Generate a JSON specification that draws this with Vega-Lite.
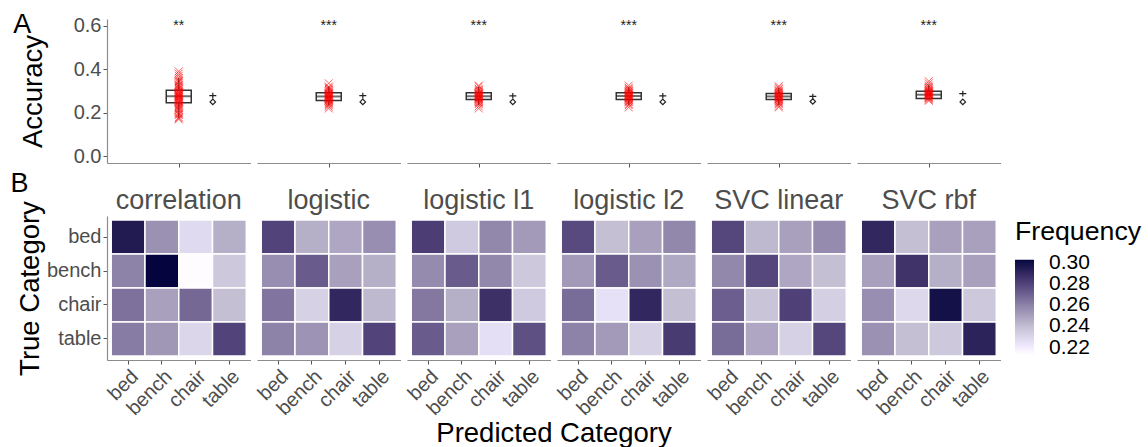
{
  "$schema": "https://vega.github.io/schema/vega-lite/v6.json",
  "padding": {"left": 10, "top": 10, "right": 5, "bottom": 2},
  "spacing": 2,
  "datasets": {
    "top": [
      {"clf": "correlation", "kind": "box", "grp": 1, "q1": 0.246, "med": 0.276, "q3": 0.304, "lo": 0.177, "hi": 0.36},
      {"clf": "logistic", "kind": "box", "grp": 1, "q1": 0.256, "med": 0.275, "q3": 0.292, "lo": 0.233, "hi": 0.322},
      {"clf": "logistic l1", "kind": "box", "grp": 1, "q1": 0.261, "med": 0.276, "q3": 0.292, "lo": 0.235, "hi": 0.318},
      {"clf": "logistic l2", "kind": "box", "grp": 1, "q1": 0.261, "med": 0.277, "q3": 0.292, "lo": 0.235, "hi": 0.32},
      {"clf": "SVC linear", "kind": "box", "grp": 1, "q1": 0.261, "med": 0.275, "q3": 0.289, "lo": 0.235, "hi": 0.315},
      {"clf": "SVC rbf", "kind": "box", "grp": 1, "q1": 0.266, "med": 0.283, "q3": 0.299, "lo": 0.262, "hi": 0.33},
      {"clf": "correlation", "kind": "chance", "grp": 2, "med": 0.279, "out": 0.25},
      {"clf": "logistic", "kind": "chance", "grp": 2, "med": 0.279, "out": 0.25},
      {"clf": "logistic l1", "kind": "chance", "grp": 2, "med": 0.278, "out": 0.25},
      {"clf": "logistic l2", "kind": "chance", "grp": 2, "med": 0.278, "out": 0.25},
      {"clf": "SVC linear", "kind": "chance", "grp": 2, "med": 0.275, "out": 0.252},
      {"clf": "SVC rbf", "kind": "chance", "grp": 2, "med": 0.288, "out": 0.25},
      {"clf": "correlation", "kind": "star", "grp": 1, "sy": 0.6, "sig": "**"},
      {"clf": "logistic", "kind": "star", "grp": 1, "sy": 0.6, "sig": "***"},
      {"clf": "logistic l1", "kind": "star", "grp": 1, "sy": 0.6, "sig": "***"},
      {"clf": "logistic l2", "kind": "star", "grp": 1, "sy": 0.6, "sig": "***"},
      {"clf": "SVC linear", "kind": "star", "grp": 1, "sy": 0.6, "sig": "***"},
      {"clf": "SVC rbf", "kind": "star", "grp": 1, "sy": 0.6, "sig": "***"},
      {"clf": "correlation", "kind": "pt", "grp": 1, "acc": 0.17},
      {"clf": "correlation", "kind": "pt", "grp": 1, "acc": 0.175},
      {"clf": "correlation", "kind": "pt", "grp": 1, "acc": 0.18},
      {"clf": "correlation", "kind": "pt", "grp": 1, "acc": 0.19},
      {"clf": "correlation", "kind": "pt", "grp": 1, "acc": 0.195},
      {"clf": "correlation", "kind": "pt", "grp": 1, "acc": 0.2},
      {"clf": "correlation", "kind": "pt", "grp": 1, "acc": 0.21},
      {"clf": "correlation", "kind": "pt", "grp": 1, "acc": 0.215},
      {"clf": "correlation", "kind": "pt", "grp": 1, "acc": 0.22},
      {"clf": "correlation", "kind": "pt", "grp": 1, "acc": 0.225},
      {"clf": "correlation", "kind": "pt", "grp": 1, "acc": 0.23},
      {"clf": "correlation", "kind": "pt", "grp": 1, "acc": 0.235},
      {"clf": "correlation", "kind": "pt", "grp": 1, "acc": 0.24},
      {"clf": "correlation", "kind": "pt", "grp": 1, "acc": 0.245},
      {"clf": "correlation", "kind": "pt", "grp": 1, "acc": 0.25},
      {"clf": "correlation", "kind": "pt", "grp": 1, "acc": 0.252},
      {"clf": "correlation", "kind": "pt", "grp": 1, "acc": 0.255},
      {"clf": "correlation", "kind": "pt", "grp": 1, "acc": 0.26},
      {"clf": "correlation", "kind": "pt", "grp": 1, "acc": 0.263},
      {"clf": "correlation", "kind": "pt", "grp": 1, "acc": 0.265},
      {"clf": "correlation", "kind": "pt", "grp": 1, "acc": 0.27},
      {"clf": "correlation", "kind": "pt", "grp": 1, "acc": 0.272},
      {"clf": "correlation", "kind": "pt", "grp": 1, "acc": 0.275},
      {"clf": "correlation", "kind": "pt", "grp": 1, "acc": 0.278},
      {"clf": "correlation", "kind": "pt", "grp": 1, "acc": 0.28},
      {"clf": "correlation", "kind": "pt", "grp": 1, "acc": 0.283},
      {"clf": "correlation", "kind": "pt", "grp": 1, "acc": 0.285},
      {"clf": "correlation", "kind": "pt", "grp": 1, "acc": 0.29},
      {"clf": "correlation", "kind": "pt", "grp": 1, "acc": 0.293},
      {"clf": "correlation", "kind": "pt", "grp": 1, "acc": 0.295},
      {"clf": "correlation", "kind": "pt", "grp": 1, "acc": 0.3},
      {"clf": "correlation", "kind": "pt", "grp": 1, "acc": 0.305},
      {"clf": "correlation", "kind": "pt", "grp": 1, "acc": 0.31},
      {"clf": "correlation", "kind": "pt", "grp": 1, "acc": 0.315},
      {"clf": "correlation", "kind": "pt", "grp": 1, "acc": 0.32},
      {"clf": "correlation", "kind": "pt", "grp": 1, "acc": 0.325},
      {"clf": "correlation", "kind": "pt", "grp": 1, "acc": 0.33},
      {"clf": "correlation", "kind": "pt", "grp": 1, "acc": 0.34},
      {"clf": "correlation", "kind": "pt", "grp": 1, "acc": 0.345},
      {"clf": "correlation", "kind": "pt", "grp": 1, "acc": 0.35},
      {"clf": "correlation", "kind": "pt", "grp": 1, "acc": 0.36},
      {"clf": "correlation", "kind": "pt", "grp": 1, "acc": 0.37},
      {"clf": "correlation", "kind": "pt", "grp": 1, "acc": 0.38},
      {"clf": "correlation", "kind": "pt", "grp": 1, "acc": 0.39},
      {"clf": "logistic", "kind": "pt", "grp": 1, "acc": 0.22},
      {"clf": "logistic", "kind": "pt", "grp": 1, "acc": 0.228},
      {"clf": "logistic", "kind": "pt", "grp": 1, "acc": 0.235},
      {"clf": "logistic", "kind": "pt", "grp": 1, "acc": 0.24},
      {"clf": "logistic", "kind": "pt", "grp": 1, "acc": 0.245},
      {"clf": "logistic", "kind": "pt", "grp": 1, "acc": 0.25},
      {"clf": "logistic", "kind": "pt", "grp": 1, "acc": 0.255},
      {"clf": "logistic", "kind": "pt", "grp": 1, "acc": 0.258},
      {"clf": "logistic", "kind": "pt", "grp": 1, "acc": 0.26},
      {"clf": "logistic", "kind": "pt", "grp": 1, "acc": 0.263},
      {"clf": "logistic", "kind": "pt", "grp": 1, "acc": 0.265},
      {"clf": "logistic", "kind": "pt", "grp": 1, "acc": 0.268},
      {"clf": "logistic", "kind": "pt", "grp": 1, "acc": 0.27},
      {"clf": "logistic", "kind": "pt", "grp": 1, "acc": 0.272},
      {"clf": "logistic", "kind": "pt", "grp": 1, "acc": 0.275},
      {"clf": "logistic", "kind": "pt", "grp": 1, "acc": 0.277},
      {"clf": "logistic", "kind": "pt", "grp": 1, "acc": 0.28},
      {"clf": "logistic", "kind": "pt", "grp": 1, "acc": 0.283},
      {"clf": "logistic", "kind": "pt", "grp": 1, "acc": 0.285},
      {"clf": "logistic", "kind": "pt", "grp": 1, "acc": 0.288},
      {"clf": "logistic", "kind": "pt", "grp": 1, "acc": 0.29},
      {"clf": "logistic", "kind": "pt", "grp": 1, "acc": 0.295},
      {"clf": "logistic", "kind": "pt", "grp": 1, "acc": 0.3},
      {"clf": "logistic", "kind": "pt", "grp": 1, "acc": 0.305},
      {"clf": "logistic", "kind": "pt", "grp": 1, "acc": 0.31},
      {"clf": "logistic", "kind": "pt", "grp": 1, "acc": 0.315},
      {"clf": "logistic", "kind": "pt", "grp": 1, "acc": 0.32},
      {"clf": "logistic", "kind": "pt", "grp": 1, "acc": 0.335},
      {"clf": "logistic l1", "kind": "pt", "grp": 1, "acc": 0.22},
      {"clf": "logistic l1", "kind": "pt", "grp": 1, "acc": 0.23},
      {"clf": "logistic l1", "kind": "pt", "grp": 1, "acc": 0.24},
      {"clf": "logistic l1", "kind": "pt", "grp": 1, "acc": 0.245},
      {"clf": "logistic l1", "kind": "pt", "grp": 1, "acc": 0.25},
      {"clf": "logistic l1", "kind": "pt", "grp": 1, "acc": 0.255},
      {"clf": "logistic l1", "kind": "pt", "grp": 1, "acc": 0.26},
      {"clf": "logistic l1", "kind": "pt", "grp": 1, "acc": 0.263},
      {"clf": "logistic l1", "kind": "pt", "grp": 1, "acc": 0.265},
      {"clf": "logistic l1", "kind": "pt", "grp": 1, "acc": 0.268},
      {"clf": "logistic l1", "kind": "pt", "grp": 1, "acc": 0.27},
      {"clf": "logistic l1", "kind": "pt", "grp": 1, "acc": 0.273},
      {"clf": "logistic l1", "kind": "pt", "grp": 1, "acc": 0.275},
      {"clf": "logistic l1", "kind": "pt", "grp": 1, "acc": 0.278},
      {"clf": "logistic l1", "kind": "pt", "grp": 1, "acc": 0.28},
      {"clf": "logistic l1", "kind": "pt", "grp": 1, "acc": 0.283},
      {"clf": "logistic l1", "kind": "pt", "grp": 1, "acc": 0.285},
      {"clf": "logistic l1", "kind": "pt", "grp": 1, "acc": 0.288},
      {"clf": "logistic l1", "kind": "pt", "grp": 1, "acc": 0.29},
      {"clf": "logistic l1", "kind": "pt", "grp": 1, "acc": 0.295},
      {"clf": "logistic l1", "kind": "pt", "grp": 1, "acc": 0.3},
      {"clf": "logistic l1", "kind": "pt", "grp": 1, "acc": 0.305},
      {"clf": "logistic l1", "kind": "pt", "grp": 1, "acc": 0.31},
      {"clf": "logistic l1", "kind": "pt", "grp": 1, "acc": 0.32},
      {"clf": "logistic l1", "kind": "pt", "grp": 1, "acc": 0.325},
      {"clf": "logistic l2", "kind": "pt", "grp": 1, "acc": 0.225},
      {"clf": "logistic l2", "kind": "pt", "grp": 1, "acc": 0.235},
      {"clf": "logistic l2", "kind": "pt", "grp": 1, "acc": 0.24},
      {"clf": "logistic l2", "kind": "pt", "grp": 1, "acc": 0.248},
      {"clf": "logistic l2", "kind": "pt", "grp": 1, "acc": 0.252},
      {"clf": "logistic l2", "kind": "pt", "grp": 1, "acc": 0.256},
      {"clf": "logistic l2", "kind": "pt", "grp": 1, "acc": 0.26},
      {"clf": "logistic l2", "kind": "pt", "grp": 1, "acc": 0.264},
      {"clf": "logistic l2", "kind": "pt", "grp": 1, "acc": 0.267},
      {"clf": "logistic l2", "kind": "pt", "grp": 1, "acc": 0.27},
      {"clf": "logistic l2", "kind": "pt", "grp": 1, "acc": 0.272},
      {"clf": "logistic l2", "kind": "pt", "grp": 1, "acc": 0.275},
      {"clf": "logistic l2", "kind": "pt", "grp": 1, "acc": 0.278},
      {"clf": "logistic l2", "kind": "pt", "grp": 1, "acc": 0.28},
      {"clf": "logistic l2", "kind": "pt", "grp": 1, "acc": 0.283},
      {"clf": "logistic l2", "kind": "pt", "grp": 1, "acc": 0.286},
      {"clf": "logistic l2", "kind": "pt", "grp": 1, "acc": 0.29},
      {"clf": "logistic l2", "kind": "pt", "grp": 1, "acc": 0.293},
      {"clf": "logistic l2", "kind": "pt", "grp": 1, "acc": 0.297},
      {"clf": "logistic l2", "kind": "pt", "grp": 1, "acc": 0.3},
      {"clf": "logistic l2", "kind": "pt", "grp": 1, "acc": 0.305},
      {"clf": "logistic l2", "kind": "pt", "grp": 1, "acc": 0.31},
      {"clf": "logistic l2", "kind": "pt", "grp": 1, "acc": 0.315},
      {"clf": "logistic l2", "kind": "pt", "grp": 1, "acc": 0.325},
      {"clf": "SVC linear", "kind": "pt", "grp": 1, "acc": 0.225},
      {"clf": "SVC linear", "kind": "pt", "grp": 1, "acc": 0.232},
      {"clf": "SVC linear", "kind": "pt", "grp": 1, "acc": 0.24},
      {"clf": "SVC linear", "kind": "pt", "grp": 1, "acc": 0.245},
      {"clf": "SVC linear", "kind": "pt", "grp": 1, "acc": 0.25},
      {"clf": "SVC linear", "kind": "pt", "grp": 1, "acc": 0.255},
      {"clf": "SVC linear", "kind": "pt", "grp": 1, "acc": 0.26},
      {"clf": "SVC linear", "kind": "pt", "grp": 1, "acc": 0.263},
      {"clf": "SVC linear", "kind": "pt", "grp": 1, "acc": 0.266},
      {"clf": "SVC linear", "kind": "pt", "grp": 1, "acc": 0.269},
      {"clf": "SVC linear", "kind": "pt", "grp": 1, "acc": 0.272},
      {"clf": "SVC linear", "kind": "pt", "grp": 1, "acc": 0.275},
      {"clf": "SVC linear", "kind": "pt", "grp": 1, "acc": 0.278},
      {"clf": "SVC linear", "kind": "pt", "grp": 1, "acc": 0.28},
      {"clf": "SVC linear", "kind": "pt", "grp": 1, "acc": 0.283},
      {"clf": "SVC linear", "kind": "pt", "grp": 1, "acc": 0.286},
      {"clf": "SVC linear", "kind": "pt", "grp": 1, "acc": 0.29},
      {"clf": "SVC linear", "kind": "pt", "grp": 1, "acc": 0.294},
      {"clf": "SVC linear", "kind": "pt", "grp": 1, "acc": 0.298},
      {"clf": "SVC linear", "kind": "pt", "grp": 1, "acc": 0.302},
      {"clf": "SVC linear", "kind": "pt", "grp": 1, "acc": 0.308},
      {"clf": "SVC linear", "kind": "pt", "grp": 1, "acc": 0.315},
      {"clf": "SVC linear", "kind": "pt", "grp": 1, "acc": 0.322},
      {"clf": "SVC rbf", "kind": "pt", "grp": 1, "acc": 0.255},
      {"clf": "SVC rbf", "kind": "pt", "grp": 1, "acc": 0.26},
      {"clf": "SVC rbf", "kind": "pt", "grp": 1, "acc": 0.265},
      {"clf": "SVC rbf", "kind": "pt", "grp": 1, "acc": 0.268},
      {"clf": "SVC rbf", "kind": "pt", "grp": 1, "acc": 0.271},
      {"clf": "SVC rbf", "kind": "pt", "grp": 1, "acc": 0.274},
      {"clf": "SVC rbf", "kind": "pt", "grp": 1, "acc": 0.277},
      {"clf": "SVC rbf", "kind": "pt", "grp": 1, "acc": 0.28},
      {"clf": "SVC rbf", "kind": "pt", "grp": 1, "acc": 0.282},
      {"clf": "SVC rbf", "kind": "pt", "grp": 1, "acc": 0.284},
      {"clf": "SVC rbf", "kind": "pt", "grp": 1, "acc": 0.286},
      {"clf": "SVC rbf", "kind": "pt", "grp": 1, "acc": 0.288},
      {"clf": "SVC rbf", "kind": "pt", "grp": 1, "acc": 0.29},
      {"clf": "SVC rbf", "kind": "pt", "grp": 1, "acc": 0.292},
      {"clf": "SVC rbf", "kind": "pt", "grp": 1, "acc": 0.295},
      {"clf": "SVC rbf", "kind": "pt", "grp": 1, "acc": 0.298},
      {"clf": "SVC rbf", "kind": "pt", "grp": 1, "acc": 0.3},
      {"clf": "SVC rbf", "kind": "pt", "grp": 1, "acc": 0.303},
      {"clf": "SVC rbf", "kind": "pt", "grp": 1, "acc": 0.307},
      {"clf": "SVC rbf", "kind": "pt", "grp": 1, "acc": 0.312},
      {"clf": "SVC rbf", "kind": "pt", "grp": 1, "acc": 0.318},
      {"clf": "SVC rbf", "kind": "pt", "grp": 1, "acc": 0.325},
      {"clf": "SVC rbf", "kind": "pt", "grp": 1, "acc": 0.335},
      {"clf": "SVC rbf", "kind": "pt", "grp": 1, "acc": 0.345}
    ],
    "cm": [
      {"clf": "correlation", "true": "bed", "pred": "bed", "freq": 0.295},
      {"clf": "correlation", "true": "bed", "pred": "bench", "freq": 0.255},
      {"clf": "correlation", "true": "bed", "pred": "chair", "freq": 0.228},
      {"clf": "correlation", "true": "bed", "pred": "table", "freq": 0.245},
      {"clf": "correlation", "true": "bench", "pred": "bed", "freq": 0.26},
      {"clf": "correlation", "true": "bench", "pred": "bench", "freq": 0.3028},
      {"clf": "correlation", "true": "bench", "pred": "chair", "freq": 0.2134},
      {"clf": "correlation", "true": "bench", "pred": "table", "freq": 0.236},
      {"clf": "correlation", "true": "chair", "pred": "bed", "freq": 0.265},
      {"clf": "correlation", "true": "chair", "pred": "bench", "freq": 0.25},
      {"clf": "correlation", "true": "chair", "pred": "chair", "freq": 0.268},
      {"clf": "correlation", "true": "chair", "pred": "table", "freq": 0.24},
      {"clf": "correlation", "true": "table", "pred": "bed", "freq": 0.262},
      {"clf": "correlation", "true": "table", "pred": "bench", "freq": 0.253},
      {"clf": "correlation", "true": "table", "pred": "chair", "freq": 0.23},
      {"clf": "correlation", "true": "table", "pred": "table", "freq": 0.28},
      {"clf": "logistic", "true": "bed", "pred": "bed", "freq": 0.28},
      {"clf": "logistic", "true": "bed", "pred": "bench", "freq": 0.245},
      {"clf": "logistic", "true": "bed", "pred": "chair", "freq": 0.248},
      {"clf": "logistic", "true": "bed", "pred": "table", "freq": 0.256},
      {"clf": "logistic", "true": "bench", "pred": "bed", "freq": 0.256},
      {"clf": "logistic", "true": "bench", "pred": "bench", "freq": 0.272},
      {"clf": "logistic", "true": "bench", "pred": "chair", "freq": 0.25},
      {"clf": "logistic", "true": "bench", "pred": "table", "freq": 0.245},
      {"clf": "logistic", "true": "chair", "pred": "bed", "freq": 0.264},
      {"clf": "logistic", "true": "chair", "pred": "bench", "freq": 0.232},
      {"clf": "logistic", "true": "chair", "pred": "chair", "freq": 0.29},
      {"clf": "logistic", "true": "chair", "pred": "table", "freq": 0.242},
      {"clf": "logistic", "true": "table", "pred": "bed", "freq": 0.26},
      {"clf": "logistic", "true": "table", "pred": "bench", "freq": 0.254},
      {"clf": "logistic", "true": "table", "pred": "chair", "freq": 0.232},
      {"clf": "logistic", "true": "table", "pred": "table", "freq": 0.28},
      {"clf": "logistic l1", "true": "bed", "pred": "bed", "freq": 0.282},
      {"clf": "logistic l1", "true": "bed", "pred": "bench", "freq": 0.235},
      {"clf": "logistic l1", "true": "bed", "pred": "chair", "freq": 0.258},
      {"clf": "logistic l1", "true": "bed", "pred": "table", "freq": 0.252},
      {"clf": "logistic l1", "true": "bench", "pred": "bed", "freq": 0.257},
      {"clf": "logistic l1", "true": "bench", "pred": "bench", "freq": 0.272},
      {"clf": "logistic l1", "true": "bench", "pred": "chair", "freq": 0.258},
      {"clf": "logistic l1", "true": "bench", "pred": "table", "freq": 0.236},
      {"clf": "logistic l1", "true": "chair", "pred": "bed", "freq": 0.263},
      {"clf": "logistic l1", "true": "chair", "pred": "bench", "freq": 0.245},
      {"clf": "logistic l1", "true": "chair", "pred": "chair", "freq": 0.287},
      {"clf": "logistic l1", "true": "chair", "pred": "table", "freq": 0.235},
      {"clf": "logistic l1", "true": "table", "pred": "bed", "freq": 0.272},
      {"clf": "logistic l1", "true": "table", "pred": "bench", "freq": 0.25},
      {"clf": "logistic l1", "true": "table", "pred": "chair", "freq": 0.226},
      {"clf": "logistic l1", "true": "table", "pred": "table", "freq": 0.276},
      {"clf": "logistic l2", "true": "bed", "pred": "bed", "freq": 0.278},
      {"clf": "logistic l2", "true": "bed", "pred": "bench", "freq": 0.24},
      {"clf": "logistic l2", "true": "bed", "pred": "chair", "freq": 0.25},
      {"clf": "logistic l2", "true": "bed", "pred": "table", "freq": 0.258},
      {"clf": "logistic l2", "true": "bench", "pred": "bed", "freq": 0.252},
      {"clf": "logistic l2", "true": "bench", "pred": "bench", "freq": 0.272},
      {"clf": "logistic l2", "true": "bench", "pred": "chair", "freq": 0.255},
      {"clf": "logistic l2", "true": "bench", "pred": "table", "freq": 0.247},
      {"clf": "logistic l2", "true": "chair", "pred": "bed", "freq": 0.267},
      {"clf": "logistic l2", "true": "chair", "pred": "bench", "freq": 0.225},
      {"clf": "logistic l2", "true": "chair", "pred": "chair", "freq": 0.29},
      {"clf": "logistic l2", "true": "chair", "pred": "table", "freq": 0.24},
      {"clf": "logistic l2", "true": "table", "pred": "bed", "freq": 0.26},
      {"clf": "logistic l2", "true": "table", "pred": "bench", "freq": 0.252},
      {"clf": "logistic l2", "true": "table", "pred": "chair", "freq": 0.232},
      {"clf": "logistic l2", "true": "table", "pred": "table", "freq": 0.283},
      {"clf": "SVC linear", "true": "bed", "pred": "bed", "freq": 0.279},
      {"clf": "SVC linear", "true": "bed", "pred": "bench", "freq": 0.242},
      {"clf": "SVC linear", "true": "bed", "pred": "chair", "freq": 0.25},
      {"clf": "SVC linear", "true": "bed", "pred": "table", "freq": 0.257},
      {"clf": "SVC linear", "true": "bench", "pred": "bed", "freq": 0.258},
      {"clf": "SVC linear", "true": "bench", "pred": "bench", "freq": 0.279},
      {"clf": "SVC linear", "true": "bench", "pred": "chair", "freq": 0.248},
      {"clf": "SVC linear", "true": "bench", "pred": "table", "freq": 0.24},
      {"clf": "SVC linear", "true": "chair", "pred": "bed", "freq": 0.271},
      {"clf": "SVC linear", "true": "chair", "pred": "bench", "freq": 0.238},
      {"clf": "SVC linear", "true": "chair", "pred": "chair", "freq": 0.281},
      {"clf": "SVC linear", "true": "chair", "pred": "table", "freq": 0.233},
      {"clf": "SVC linear", "true": "table", "pred": "bed", "freq": 0.267},
      {"clf": "SVC linear", "true": "table", "pred": "bench", "freq": 0.248},
      {"clf": "SVC linear", "true": "table", "pred": "chair", "freq": 0.232},
      {"clf": "SVC linear", "true": "table", "pred": "table", "freq": 0.279},
      {"clf": "SVC rbf", "true": "bed", "pred": "bed", "freq": 0.29},
      {"clf": "SVC rbf", "true": "bed", "pred": "bench", "freq": 0.24},
      {"clf": "SVC rbf", "true": "bed", "pred": "chair", "freq": 0.25},
      {"clf": "SVC rbf", "true": "bed", "pred": "table", "freq": 0.25},
      {"clf": "SVC rbf", "true": "bench", "pred": "bed", "freq": 0.25},
      {"clf": "SVC rbf", "true": "bench", "pred": "bench", "freq": 0.286},
      {"clf": "SVC rbf", "true": "bench", "pred": "chair", "freq": 0.245},
      {"clf": "SVC rbf", "true": "bench", "pred": "table", "freq": 0.25},
      {"clf": "SVC rbf", "true": "chair", "pred": "bed", "freq": 0.256},
      {"clf": "SVC rbf", "true": "chair", "pred": "bench", "freq": 0.229},
      {"clf": "SVC rbf", "true": "chair", "pred": "chair", "freq": 0.299},
      {"clf": "SVC rbf", "true": "chair", "pred": "table", "freq": 0.236},
      {"clf": "SVC rbf", "true": "table", "pred": "bed", "freq": 0.255},
      {"clf": "SVC rbf", "true": "table", "pred": "bench", "freq": 0.24},
      {"clf": "SVC rbf", "true": "table", "pred": "chair", "freq": 0.236},
      {"clf": "SVC rbf", "true": "table", "pred": "table", "freq": 0.292}
    ]
  },
  "vconcat": [
    {
      "data": {"name": "top"},
      "title": {"text": "A", "anchor": "start", "frame": "bounds", "fontSize": 27, "fontWeight": "normal", "color": "black", "offset": -23, "dx": -6},
      "facet": {
        "column": {"field": "clf", "type": "nominal", "title": null, "header": {"labels": false, "title": null},
          "sort": ["correlation", "logistic", "logistic l1", "logistic l2", "SVC linear", "SVC rbf"]}
      },
      "spacing": 6,
      "spec": {
        "width": 143.5,
        "height": 144,
        "encoding": {
          "x": {"field": "grp", "type": "quantitative", "scale": {"domain": [-0.96, 2.96], "nice": false, "zero": false},
            "axis": {"values": [1], "labels": false, "title": null, "tickSize": 4}}
        },
        "layer": [
          {
            "transform": [{"filter": "datum.kind === 'box'"}],
            "mark": {"type": "rule", "color": "#333333", "strokeWidth": 1.2},
            "encoding": {
              "y": {"field": "lo", "type": "quantitative", "title": "Accuracy",
                "scale": {"domain": [-0.03, 0.63], "nice": false, "zero": false},
                "axis": {"values": [0, 0.2, 0.4, 0.6], "format": ".1f", "titlePadding": 26}},
              "y2": {"field": "hi"}
            }
          },
          {
            "transform": [{"filter": "datum.kind === 'box'"}],
            "mark": {"type": "bar", "orient": "vertical", "size": 25, "fill": "white", "stroke": "#333333", "strokeWidth": 1.5},
            "encoding": {
              "y": {"field": "q1", "type": "quantitative", "title": "Accuracy"},
              "y2": {"field": "q3"}
            }
          },
          {
            "transform": [{"filter": "datum.kind === 'box'"}],
            "mark": {"type": "tick", "orient": "horizontal", "size": 25, "thickness": 2, "color": "#333333"},
            "encoding": {
              "y": {"field": "med", "type": "quantitative", "title": "Accuracy"}
            }
          },
          {
            "transform": [{"filter": "datum.kind === 'pt'"}],
            "mark": {"type": "point", "shape": "M-1,-1L1,1M-1,1L1,-1", "filled": false, "stroke": "#ff0000", "strokeWidth": 1, "size": 64, "opacity": 0.6},
            "encoding": {
              "y": {"field": "acc", "type": "quantitative", "title": "Accuracy"}
            }
          },
          {
            "transform": [{"filter": "datum.kind === 'chance'"}],
            "mark": {"type": "point", "shape": "M-1,0L1,0M0,-0.8L0,0.8", "filled": false, "stroke": "#222222", "strokeWidth": 1.2, "size": 49, "opacity": 1},
            "encoding": {
              "y": {"field": "med", "type": "quantitative", "title": "Accuracy"}
            }
          },
          {
            "transform": [{"filter": "datum.kind === 'chance'"}],
            "mark": {"type": "point", "shape": "diamond", "filled": false, "stroke": "#222222", "strokeWidth": 1.2, "size": 30, "opacity": 1},
            "encoding": {
              "y": {"field": "out", "type": "quantitative", "title": "Accuracy"}
            }
          },
          {
            "transform": [{"filter": "datum.kind === 'star'"}],
            "mark": {"type": "text", "fontSize": 14, "color": "#222222", "baseline": "middle"},
            "encoding": {
              "y": {"field": "sy", "type": "quantitative", "title": "Accuracy"},
              "text": {"field": "sig"}
            }
          }
        ]
      }
    },
    {
      "data": {"name": "cm"},
      "title": {"text": "B", "anchor": "start", "frame": "bounds", "fontSize": 27, "fontWeight": "normal", "color": "black", "offset": -11, "dx": -6},
      "facet": {
        "column": {"field": "clf", "type": "nominal", "title": "Predicted Category",
          "sort": ["correlation", "logistic", "logistic l1", "logistic l2", "SVC linear", "SVC rbf"],
          "header": {"labelFontSize": 27, "labelColor": "#4d4d4d", "labelPadding": 1, "labelFont": "Liberation Sans",
            "labelOrient": "top", "titleOrient": "bottom", "titleFontSize": 27.5, "titleFontWeight": "normal", "titleColor": "black",
            "titleFont": "Liberation Sans", "titlePadding": -9}}
      },
      "spacing": 6,
      "spec": {
        "width": 143.5,
        "height": 144,
        "mark": {"type": "rect", "stroke": "white", "strokeWidth": 1.5},
        "encoding": {
          "x": {"field": "pred", "type": "nominal", "sort": ["bed", "bench", "chair", "table"],
            "scale": {"paddingInner": 0, "paddingOuter": 0.125},
            "axis": {"title": null, "labelAngle": -45, "labelAlign": "right", "labelBaseline": "top", "tickSize": 4}},
          "y": {"field": "true", "type": "nominal", "sort": ["bed", "bench", "chair", "table"],
            "scale": {"paddingInner": 0, "paddingOuter": 0.12},
            "axis": {"title": "True Category", "tickSize": 4, "titlePadding": 2}},
          "color": {"field": "freq", "type": "quantitative",
            "scale": {"domain": [0.2134, 0.24, 0.26, 0.28, 0.3028], "range": ["#ffffff", "#c4bfd3", "#8d82a8", "#52447a", "#06043f"]},
            "legend": {"title": "Frequency", "orient": "none", "legendX": 908, "legendY": 200, "direction": "vertical",
              "gradientLength": 95, "gradientThickness": 19, "values": [0.22, 0.24, 0.26, 0.28, 0.3], "format": ".2f",
              "titleFontSize": 26.7, "titleFontWeight": "normal", "titleColor": "black", "labelFontSize": 21, "labelColor": "black",
              "titleFont": "Liberation Sans", "labelFont": "Liberation Sans", "gradientStrokeWidth": 0, "labelOffset": 15, "titlePadding": 14}}
        }
      }
    }
  ],
  "config": {
    "font": "Liberation Sans",
    "view": {"stroke": null},
    "axis": {"grid": false, "domainColor": "#8c8c8c", "domainWidth": 1.2, "tickColor": "#555555", "tickSize": 4,
      "labelFont": "Liberation Sans", "labelFontSize": 20, "labelColor": "#4d4d4d",
      "titleFont": "Liberation Sans", "titleFontSize": 27.5, "titleFontWeight": "normal", "titleColor": "black"},
    "title": {"font": "Liberation Sans"}
  }
}
